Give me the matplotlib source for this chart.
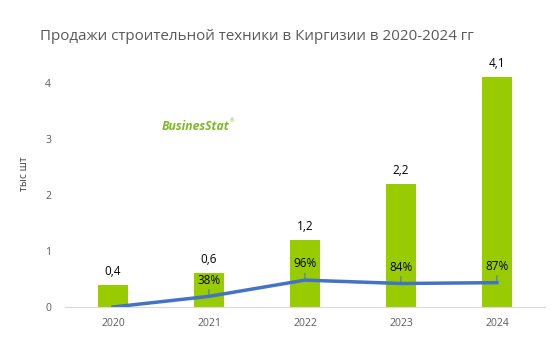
import matplotlib
matplotlib.use("Agg")
import matplotlib.pyplot as plt

years = ["2020", "2021", "2022", "2023", "2024"]
sales = [0.4, 0.6, 1.2, 2.2, 4.1]
sales_labels = ["0,4", "0,6", "1,2", "2,2", "4,1"]
growth = [0, 38, 96, 84, 87]
growth_labels = ["", "38%", "96%", "84%", "87%"]
yticks = [0, 1, 2, 3, 4]

plt.rcParams['font.family'] = ['Open Sans', 'DejaVu Sans']

fig = plt.figure(figsize=(5.6, 3.56), dpi=100)
ax = fig.add_axes([0.116, 0.1376, 0.857, 0.708])
x = list(range(len(years)))
ax.bar(x, sales, width=0.31, color="#99CC00", zorder=2)
ax.set_xlim(-0.5, 4.5)
ax.set_ylim(0, 4.5)
ax.set_yticks(yticks)
ax.set_yticklabels([str(v) for v in yticks])
ax.set_xticks(x)
ax.set_xticklabels(years)
for s in ["top", "right", "left"]:
    ax.spines[s].set_visible(False)
ax.spines["bottom"].set_color("#D9D9D9")
ax.tick_params(axis="both", length=0, labelsize=7.5, colors="#595959")
ax.tick_params(axis="y", pad=10)
ax.tick_params(axis="x", pad=8)
ax.set_ylabel("тыс шт", fontsize=7.5, color="#404040")
ax.yaxis.set_label_coords(-0.073, 0.53)

for xi, v, lab in zip(x, sales, sales_labels):
    ax.annotate(lab, (xi, v), xytext=(0, 5), textcoords="offset points",
                ha="center", va="bottom", fontsize=8.5, color="black")

ax2 = ax.twinx()
ax2.set_ylim(0, 900)
ax2.axis("off")
ax2.plot(x, growth, color="#4472C4", lw=2.5, zorder=3)
for xi, g, lab in zip(x, growth, growth_labels):
    if lab:
        ax2.annotate(lab, (xi, g), xytext=(0, 7), textcoords="offset points",
                     ha="center", va="bottom", fontsize=8.5, color="black",
                     arrowprops=dict(arrowstyle="-", color="#4472C4", lw=0.7,
                                     shrinkA=0, shrinkB=0))

fig.text(0.459, 0.897, "Продажи строительной техники в Киргизии в 2020-2024 гг",
         ha="center", va="center", fontsize=10.9, color="#595959")

# logo
fig.text(0.288, 0.645, "BusinesStat", fontsize=8.7, fontweight="bold", style="italic",
         color="#7DB928", ha="left", va="center")
fig.text(0.41, 0.66, "®", fontsize=4, color="#7DB928", ha="left", va="center")

fig.savefig("out.png", dpi=100)
